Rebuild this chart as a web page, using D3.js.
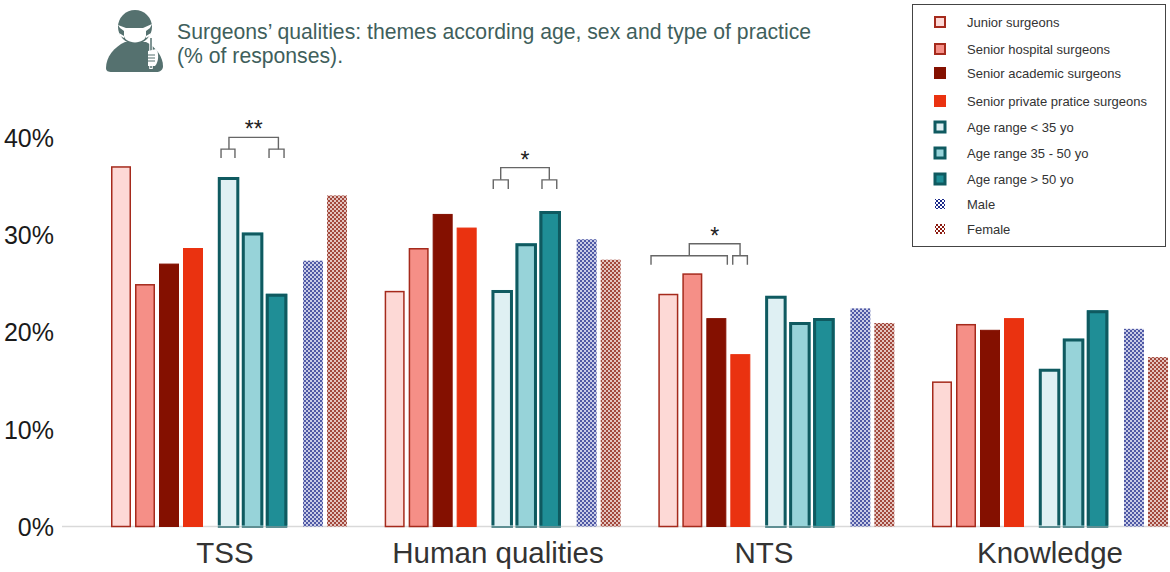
<!DOCTYPE html>
<html><head><meta charset="utf-8">
<script src="https://cdn.jsdelivr.net/npm/d3@7"></script>
<style>html,body{margin:0;padding:0;background:#fff}svg{display:block}text{font-family:"Liberation Sans",Arial,sans-serif}</style>
</head><body><svg id="c" width="1170" height="572"></svg>
<script>
const categories = ["TSS","Human qualities","NTS","Knowledge"];
const seriesNames = ["Junior surgeons","Senior hospital surgeons","Senior academic surgeons","Senior private pratice surgeons","Age range < 35 yo","Age range 35 - 50 yo","Age range > 50 yo","Male","Female"];
const junior   = [37.0,24.2,23.9,14.9];
const hospital = [24.9,28.6,26.0,20.8];
const academic = [27.0,32.1,21.4,20.2];
const privatePr= [28.6,30.7,17.7,21.4];
const ageYoung = [35.9,24.3,23.7,16.2];
const ageMid   = [30.2,29.1,21.0,19.3];
const ageOld   = [23.9,32.4,21.4,22.2];
const male     = [27.3,29.5,22.4,20.3];
const female   = [34.0,27.4,20.9,17.4];
const allValues = [junior,hospital,academic,privatePr,ageYoung,ageMid,ageOld,male,female];
const yTicks = [0,10,20,30,40];
const seriesSlots = [0,2,4,6,8.9,10.9,12.9,16,18];
const brackets = [
  {group:0,star:"**",parts:[[9.17,10.33],[13.17,14.42]],top:[9.83,13.95],topV:39.96,subV:38.75,botV:37.85},
  {group:1,star:"*",parts:[[9.05,10.3],[13.11,14.34]],top:[9.67,13.72],topV:36.85,subV:35.6,botV:34.65},
  {group:2,star:"*",parts:[[-0.61,5.75],[6.2,7.42]],top:[2.58,6.81],topV:29.03,subV:27.8,botV:26.87}
];
const styles = [
  {fill:"#fdd9d6",stroke:"#a52a1c",sw:1.5},
  {fill:"#f58f87",stroke:"#a52a1c",sw:1.5},
  {fill:"#841000",stroke:"#841000",sw:1},
  {fill:"#ea3210",stroke:"#ea3210",sw:1},
  {fill:"#dff0f3",stroke:"#0f5a60",sw:3},
  {fill:"#97d3d9",stroke:"#0f5a60",sw:3},
  {fill:"#1f8e96",stroke:"#0f5a60",sw:3},
  {fill:"url(#pm)",stroke:"none",sw:0},
  {fill:"url(#pf)",stroke:"none",sw:0}
];
const svg = d3.select("#c");
const defs = svg.append("defs");
[["pm","#27338f","#c9cce6"],["pf","#8c1f10","#e3c4bf"]].forEach(([id,col,bg])=>{
  const p = defs.append("pattern").attr("id",id).attr("width",4).attr("height",4).attr("patternUnits","userSpaceOnUse");
  p.append("rect").attr("width",4).attr("height",4).attr("fill",bg);
  p.append("rect").attr("width",2).attr("height",2).attr("fill",col).attr("opacity",.75);
  p.append("rect").attr("x",2).attr("y",2).attr("width",2).attr("height",2).attr("fill",col).attr("opacity",.75);
});
[["lm","#1c2a8a"],["lf","#8c1a10"]].forEach(([id,col])=>{
  const p = defs.append("pattern").attr("id",id).attr("width",4).attr("height",4).attr("patternUnits","userSpaceOnUse");
  p.append("rect").attr("width",2).attr("height",2).attr("fill",col);
  p.append("rect").attr("x",2).attr("y",2).attr("width",2).attr("height",2).attr("fill",col);
});
const y = d3.scaleLinear().domain([0,40]).range([526.5,137]);
const xGroup = d3.scalePoint().domain(categories).range([111,932]);
const slot = d3.scaleLinear().domain([0,18]).range([0,216]);
const barW = 20;
// axis
const axis = d3.axisLeft(y).tickValues(yTicks).tickFormat(d=>d+"%").tickSize(0);
const ag = svg.append("g").attr("transform","translate(57,1)").call(axis);
ag.select(".domain").remove();
ag.selectAll("text").attr("font-size",25).attr("fill","#1a1a1a").attr("font-family","Liberation Sans");
svg.append("line").attr("x1",62).attr("x2",1170).attr("y1",y(0)).attr("y2",y(0)).attr("stroke","#d9d9d9").attr("stroke-width",1.5);
// bars
allValues.forEach((vals,si)=>{
  const st = styles[si];
  const inset = st.sw/2;
  const isAge = si>=4&&si<=6;
  const w = barW+(isAge?1.5:0);
  const g = svg.append("g");
  const X = i=>xGroup(categories[i])+slot(seriesSlots[si]);
  if(isAge){
    g.selectAll("rect.f").data(vals).join("rect").attr("class","f")
      .attr("x",(d,i)=>X(i)).attr("y",d=>y(d)).attr("width",w).attr("height",d=>y(0)-y(d)).attr("fill",st.fill);
    g.selectAll("path.o").data(vals).join("path").attr("class","o").attr("fill","none")
      .attr("stroke",st.stroke).attr("stroke-width",st.sw)
      .attr("d",(d,i)=>`M${X(i)+inset},${y(0)-1}V${y(d)+inset}H${X(i)+w-inset}V${y(0)-1}`);
    g.selectAll("rect.b").data(vals).join("rect").attr("class","b")
      .attr("x",(d,i)=>X(i)).attr("y",y(0)-0.5).attr("width",w).attr("height",2).attr("fill","#5f8f93");
  } else {
    g.selectAll("rect").data(vals).join("rect")
      .attr("x",(d,i)=>X(i)+inset).attr("y",d=>y(d)+inset)
      .attr("width",w-st.sw).attr("height",d=>y(0)-y(d)-inset)
      .attr("fill",st.fill).attr("stroke",st.stroke).attr("stroke-width",st.sw);
  }
});
// group labels
const labelX = [225,498,764,1050];
svg.append("g").selectAll("text").data(categories).join("text")
  .attr("x",(d,i)=>labelX[i]).attr("y",562.5).attr("text-anchor","middle").attr("font-size",29.5).attr("fill","#333").text(d=>d);
// brackets
const bg = svg.append("g").attr("fill","none").attr("stroke","#666").attr("stroke-width",1.4);
brackets.forEach(b=>{
  const X = s=>xGroup(categories[b.group])+slot(s);
  b.parts.forEach(p=>{
    bg.append("path").attr("d",`M${X(p[0])},${y(b.botV)}V${y(b.subV)}H${X(p[1])}V${y(b.botV)}`);
  });
  bg.append("path").attr("d",`M${X(b.top[0])},${y(b.subV)}V${y(b.topV)}H${X(b.top[1])}V${y(b.subV)}`);
  svg.append("text").attr("x",(X(b.top[0])+X(b.top[1]))/2).attr("y",y(b.topV)).attr("text-anchor","middle")
    .attr("font-size",23).attr("fill","#222").text(b.star);
});
// title
const tc="#3f5f5c";
svg.append("text").attr("x",177).attr("y",39).attr("font-size",21.2).attr("fill",tc).text("Surgeons’ qualities: themes according age, sex and type of practice");
svg.append("text").attr("x",177).attr("y",63).attr("font-size",21.2).attr("fill",tc).text("(% of responses).");
// icon
const ic = svg.append("g");
const ice="#55716f";
ic.append("path").attr("fill",ice).attr("d","M106,68 C106,57 114,47 125,42 L146,42 C156,47 163,57 163,66 C163,70 160,72 156,72 L112,72 C108,72 106,71 106,68Z");
ic.append("circle").attr("cx",135).attr("cy",27).attr("r",17).attr("fill",ice);
ic.append("path").attr("fill","#fff").attr("d","M118,25 L126,28 L143,28 L152,24 L150,28 L146,31 L146,36 C145,40 141,42 135,42.5 C129,42 125,40 124,36 L124,31 L120,28Z");
ic.append("path").attr("fill","#fff").attr("d","M119,33 L124,36 L124,38 L120,36Z M151,33 L146,36 L146,38 L150,36Z");
ic.append("path").attr("stroke","#fff").attr("stroke-width",3.5).attr("fill","none").attr("d","M151,37 L151,69");
ic.append("path").attr("stroke",ice).attr("stroke-width",1.5).attr("fill","none").attr("d","M151,38 L151,68");
ic.append("path").attr("fill","#fff").attr("d","M148,51 L156,49 C159,52 159,62 155,66 L148,66Z");
ic.append("path").attr("stroke",ice).attr("stroke-width",1.2).attr("fill","none").attr("d","M148,55H155M148,58H155M148,61H155");
// legend
svg.append("rect").attr("x",912.5).attr("y",4.5).attr("width",253).attr("height",242).attr("fill","#fff").attr("stroke","#444").attr("stroke-width",1);
const legendY=[22,49,73,101,127,153,179,204,229];
const lg=svg.append("g");
seriesNames.forEach((n,i)=>{
  const st=styles[i];
  const s = i>=7?10:(i>=4?13:12), sw=i>=4&&i<7?3:(i<2?2:0);
  lg.append("rect").attr("x",940-s/2+sw/2).attr("y",legendY[i]-s/2+sw/2).attr("width",s-sw).attr("height",s-sw)
    .attr("fill",i===7?"url(#lm)":i===8?"url(#lf)":st.fill).attr("stroke",sw?st.stroke:"none").attr("stroke-width",sw);
  lg.append("text").attr("x",967).attr("y",legendY[i]+4.5).attr("font-size",13).attr("fill","#333").text(n);
});
</script></body></html>
